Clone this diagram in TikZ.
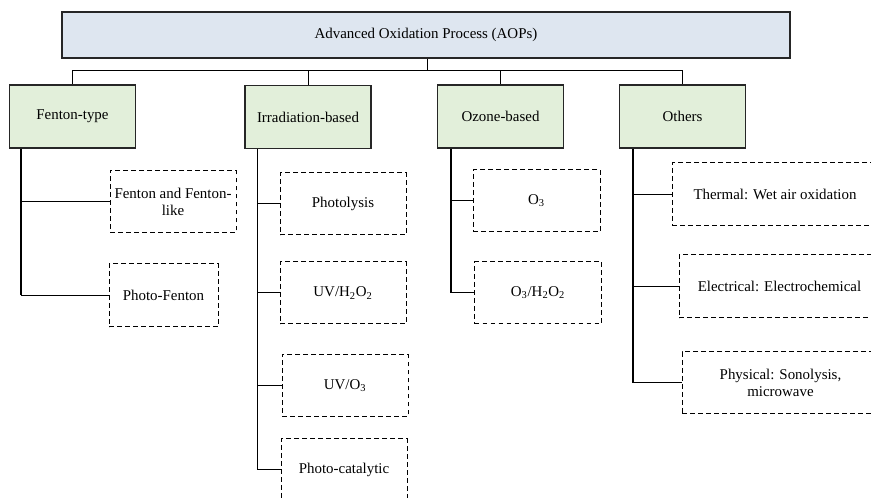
\documentclass[tikz,border=0pt]{standalone}
\usepackage{fontspec}
\setmainfont{Liberation Serif}
\definecolor{topblue}{HTML}{DEE6F0}
\definecolor{catgreen}{HTML}{E2EFDA}
\tikzset{
  base/.style={font=\fontsize{11.2}{12.75}\selectfont, align=center, inner sep=2pt},
  topbox/.style={base, draw=black!85, line width=0.85pt, fill=topblue, minimum width=546pt, minimum height=34.5pt},
  catbox/.style={base, draw=black!85, line width=0.85pt, fill=catgreen, minimum width=94.5pt, minimum height=47.25pt},
  subbox/.style={base, draw=black, line width=0.75pt, dash pattern=on 3.6pt off 2.4pt, minimum width=94.5pt, minimum height=46.5pt},
  link/.style={draw=black, line width=0.75pt},
  trunk/.style={draw=black, line width=0.85pt}
}
\begin{document}
\begin{tikzpicture}[x=0.75pt,y=-0.75pt]
\clip (0,0) rectangle (871,498);
\fill[white] (0,0) rectangle (871,498);
% top
\node[topbox] (top) at (426,35) {Advanced Oxidation Process (AOPs)};
% categories
\node[catbox] (ft) at (72.5,116.5) {Fenton-type};
\node[catbox] (ir) at (308,117) {Irradiation-based};
\node[catbox] (oz) at (500.5,116.5) {Ozone-based};
\node[catbox] (ot) at (682.5,116.5) {Others};
% junction
\coordinate (j) at (427,71);
\draw[link] (top.south -| j) -- (j);
\draw[link] (j) -| (ft.north);
\draw[link] (j) -| (ir.north);
\draw[link] (j) -| (oz.north);
\draw[link] (j) -| (ot.north);
% Fenton children
\node[subbox] (f1) at (173,201.5) {Fenton and Fenton-\\like};
\node[subbox, minimum width=81.75pt, minimum height=47.25pt] (f2) at (163.5,295.5) {Photo-Fenton};
% Irradiation children
\node[subbox] (p1) at (343,204) {Photolysis};
\node[subbox] (p2) at (343,293) {UV/H\textsubscript{2}O\textsubscript{2}};
\node[subbox] (p3) at (345,385.5) {UV/O\textsubscript{3}};
\node[subbox] (p4) at (344,470) {Photo-catalytic};
% Ozone children
\node[subbox, minimum width=95.25pt] (o1) at (536.5,201) {O\textsubscript{3}};
\node[subbox, minimum width=95.25pt] (o2) at (538,293) {O\textsubscript{3}/H\textsubscript{2}O\textsubscript{2}};
% Others children
\node[subbox, minimum width=154.5pt, minimum height=47.25pt] (t1) at (775,194.5) {Thermal: Wet air oxidation};
\node[subbox, minimum width=150.75pt, minimum height=47.25pt] (t2) at (779.5,286.5) {Electrical: Electrochemical};
\node[subbox, minimum width=147.75pt] (t3) at (780.5,383) {Physical: Sonolysis,\\microwave};
% trunks
\coordinate (ftt) at ([xshift=9pt]ft.south west);
\coordinate (irt) at ([xshift=9.75pt]ir.south west);
\coordinate (ozt) at ([xshift=10.5pt]oz.south west);
\coordinate (ott) at ([xshift=10.5pt]ot.south west);
\draw[trunk] (ftt) -- (ftt |- f2.west);
\draw[link] (ftt |- f1.west) -- (f1.west);
\draw[link] (ftt |- f2.west) -- (f2.west);
\draw[trunk] (irt) -- (irt |- p4.west);
\draw[link] (irt |- p1.west) -- (p1.west);
\draw[link] (irt |- p2.west) -- (p2.west);
\draw[link] (irt |- p3.west) -- (p3.west);
\draw[link] (irt |- p4.west) -- (p4.west);
\draw[trunk] (ozt) -- (ozt |- o2.west);
\draw[link] (ozt |- o1.west) -- (o1.west);
\draw[link] (ozt |- o2.west) -- (o2.west);
\draw[trunk] (ott) -- (ott |- t3.west);
\draw[link] (ott |- t1.west) -- (t1.west);
\draw[link] (ott |- t2.west) -- (t2.west);
\draw[link] (ott |- t3.west) -- (t3.west);
\end{tikzpicture}
\end{document}
